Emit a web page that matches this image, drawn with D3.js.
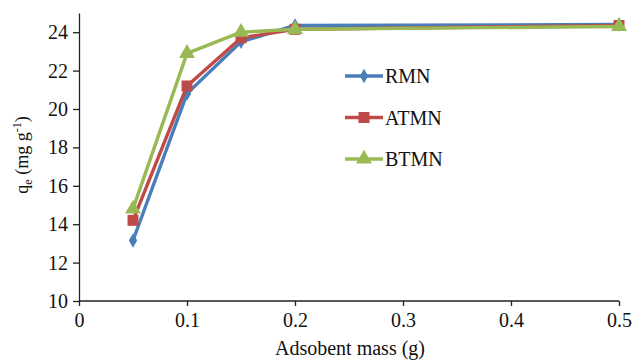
<!DOCTYPE html>
<html>
<head>
<meta charset="utf-8">
<script src="https://cdn.jsdelivr.net/npm/d3@7"></script>
<style>
  body { margin: 0; background: #fff; }
  text { font-family: "Liberation Serif", "Times New Roman", serif; fill: #111; }
</style>
</head>
<body>
<svg id="chart" width="634" height="360"></svg>
<script>
// adsorbent mass (g)
const masses = [0.05, 0.1, 0.15, 0.2, 0.5];
const rmn = [13.15, 20.8, 23.5, 24.35, 24.4];
const atmn = [14.2, 21.2, 23.7, 24.15, 24.35];
const btmn = [14.8, 22.9, 24.0, 24.15, 24.3];
const seriesNames = ['RMN', 'ATMN', 'BTMN'];
const seriesColours = ['#4a7ebb', '#be4b48', '#98b954'];
const xTicks = [0, 0.1, 0.2, 0.3, 0.4, 0.5];
const yTicks = [10, 12, 14, 16, 18, 20, 22, 24];

const series = [rmn, atmn, btmn].map((vals, i) => ({
    name: seriesNames[i],
    colour: seriesColours[i],
    points: vals.map((v, j) => ({ x: masses[j], y: v }))
}));

const margin = { top: 13, right: 15, bottom: 59, left: 79 };
const width = 634 - margin.left - margin.right;
const height = 360 - margin.top - margin.bottom;

const svg = d3.select('#chart');
const chart = svg.append('g')
    .attr('transform', `translate(${margin.left},${margin.top})`);

const xScale = d3.scaleLinear().domain([0, 0.5]).range([0, 540]);
const yScale = d3.scaleLinear().domain([10, 25]).range([height, 0]);

const xAxis = d3.axisBottom(xScale)
    .tickValues(xTicks)
    .tickFormat(d => d === 0 ? '0' : d3.format('.1f')(d))
    .tickSize(5)
    .tickSizeOuter(0)
    .tickPadding(7);

const yAxis = d3.axisLeft(yScale)
    .tickValues(yTicks)
    .tickSize(6)
    .tickSizeOuter(0)
    .tickPadding(5);

const xAxisG = chart.append('g')
    .attr('transform', `translate(0,${height})`)
    .call(xAxis);
xAxisG.select('.domain').attr('d', `M0,0H${xScale(0.5)}`);

const yAxisG = chart.append('g').call(yAxis);

chart.selectAll('.domain, .tick line')
    .attr('stroke', '#222')
    .attr('stroke-width', 1.3);
chart.selectAll('.tick text')
    .attr('font-size', 20)
    .attr('fill', '#111');

const line = d3.line()
    .x(d => xScale(d.x))
    .y(d => yScale(d.y));

const symbolFor = {
    RMN: d3.symbol().type(d3.symbolDiamond).size(60),
    ATMN: d3.symbol().type(d3.symbolSquare).size(120),
    BTMN: d3.symbol().type(d3.symbolTriangle).size(110)
};

const groups = chart.selectAll('.series')
    .data(series)
    .join('g')
    .attr('class', 'series');

groups.append('path')
    .attr('d', d => line(d.points))
    .attr('fill', 'none')
    .attr('stroke', d => d.colour)
    .attr('stroke-width', 3.4)
    .attr('stroke-linejoin', 'round');

groups.each(function(s) {
    d3.select(this).selectAll('.marker')
        .data(s.points)
        .join('path')
        .attr('class', 'marker')
        .attr('transform', d => `translate(${xScale(d.x)},${yScale(d.y)})`)
        .attr('d', symbolFor[s.name]())
        .attr('fill', s.colour);
});

// legend
const legend = svg.append('g')
    .attr('transform', 'translate(345,76)');
const legendItems = legend.selectAll('.legend-item')
    .data(series)
    .join('g')
    .attr('class', 'legend-item')
    .attr('transform', (d, i) => `translate(0,${i * 41.5})`);
legendItems.append('line')
    .attr('x1', 0).attr('x2', 38)
    .attr('stroke', d => d.colour)
    .attr('stroke-width', 3.4);
legendItems.append('path')
    .attr('transform', 'translate(19,0)')
    .attr('d', d => symbolFor[d.name]())
    .attr('fill', d => d.colour);
legendItems.append('text')
    .attr('x', 40)
    .attr('dy', '0.35em')
    .attr('font-size', 20)
    .text(d => d.name);

// axis titles
svg.append('text')
    .attr('x', 350)
    .attr('y', 355)
    .attr('text-anchor', 'middle')
    .attr('font-size', 20)
    .text('Adsobent mass (g)');

const yTitle = svg.append('text')
    .attr('transform', 'translate(28,155) rotate(-90)')
    .attr('text-anchor', 'middle')
    .attr('font-size', 18);
yTitle.append('tspan').text('q');
yTitle.append('tspan').attr('font-size', 12).attr('dy', 4).text('e');
yTitle.append('tspan').attr('dy', -4).text(' (mg  g');
yTitle.append('tspan').attr('font-size', 12).attr('dy', -7).text('-1');
yTitle.append('tspan').attr('dy', 7).text(')');
</script>
</body>
</html>
